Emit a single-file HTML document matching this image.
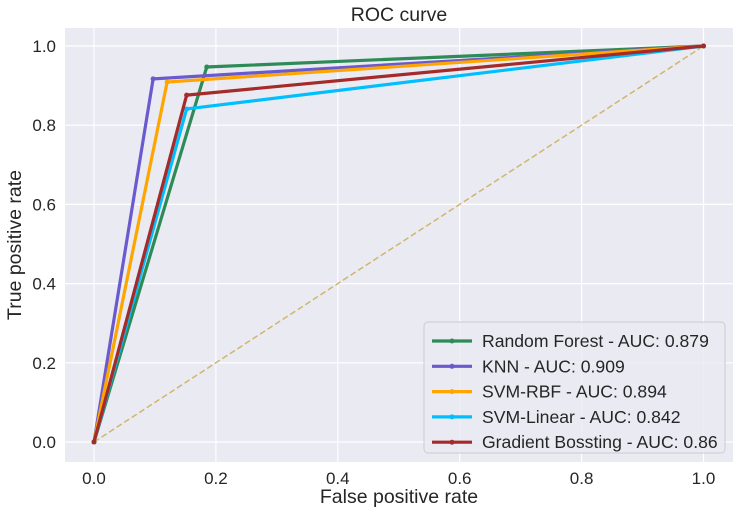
<!DOCTYPE html>
<html><head><meta charset="utf-8"><style>
body{margin:0;background:#fff;}
svg{display:block;font-family:"Liberation Sans","DejaVu Sans",sans-serif;}
</style></head><body>
<svg id="chart" width="739" height="515">
<rect x="65" y="28" width="668" height="434" fill="#eaeaf2"/>
<g id="grid"></g><g id="series"></g><g id="ticks"></g>
<text x="399" y="21" font-size="19.5" text-anchor="middle" fill="#262626">ROC curve</text>
<text x="399" y="503" font-size="19.5" text-anchor="middle" fill="#262626">False positive rate</text>
<text transform="translate(21,245) rotate(-90)" font-size="19.5" text-anchor="middle" fill="#262626">True positive rate</text>
<g id="legend"></g>
</svg>
<script>
const names=["Random Forest - AUC: 0.879","KNN - AUC: 0.909","SVM-RBF - AUC: 0.894","SVM-Linear - AUC: 0.842","Gradient Bossting - AUC: 0.86"];
const colors=["#2e8b57","#6a5acd","#ffa500","#00bfff","#a52a2a"];
const fprMid=[0.185,0.097,0.12,0.152,0.152];
const tprMid=[0.947,0.917,0.909,0.841,0.876];
const xTicks=[0,0.2,0.4,0.6,0.8,1.0];
const yTicks=[0,0.2,0.4,0.6,0.8,1.0];
const NS="http://www.w3.org/2000/svg";
const sx=v=>94+v*609.5, sy=v=>442-v*396;
function mk(t,a,p){const e=document.createElementNS(NS,t);for(const k in a)e.setAttribute(k,a[k]);p.appendChild(e);return e;}
const g=document.getElementById('grid'),tk=document.getElementById('ticks');
xTicks.forEach(v=>{const l=mk('line',{x1:sx(v),x2:sx(v),y1:28,y2:462,stroke:'#fff','stroke-width':1.2},g);


const t=mk('text',{x:sx(v),y:484,'font-size':17,'text-anchor':'middle',fill:'#262626'},tk);t.textContent=v.toFixed(1);

});
yTicks.forEach(v=>{const l=mk('line',{x1:65,x2:733,y1:sy(v),y2:sy(v),stroke:'#fff','stroke-width':1.2},g);


const t=mk('text',{x:56,y:sy(v)+6,'font-size':17,'text-anchor':'end',fill:'#262626'},tk);t.textContent=v.toFixed(1);

});
const s=document.getElementById('series');
const d=mk('line',{x1:sx(0),y1:sy(0),x2:sx(1),y2:sy(1),stroke:'#d2b46c','stroke-width':1.5,'stroke-dasharray':'6,3'},s);


names.forEach((n,i)=>{const pts=[[0,0],[fprMid[i],tprMid[i]],[1,1]];
const p=mk('polyline',{points:pts.map(q=>sx(q[0])+','+sy(q[1])).join(' '),fill:'none',stroke:colors[i],'stroke-width':3.2,'stroke-linejoin':'miter'},s);


pts.forEach(q=>{const c=mk('circle',{cx:sx(q[0]),cy:sy(q[1]),r:2.5,fill:colors[i]},s);

});});
const lg=document.getElementById('legend');
mk('rect',{x:424,y:322,width:301,height:131,rx:4,fill:'#eaeaf2',stroke:'#ccc','fill-opacity':0.8},lg);
names.forEach((n,i)=>{const y=341+i*25.3;
const l=mk('line',{x1:432,x2:472,y1:y,y2:y,stroke:colors[i],'stroke-width':3.2},lg);


mk('circle',{cx:452,cy:y,r:2.5,fill:colors[i]},lg);
const t=mk('text',{x:482,y:y+6,'font-size':17.6,fill:'#262626'},lg);t.textContent=n;

});
</script>
</body></html>
